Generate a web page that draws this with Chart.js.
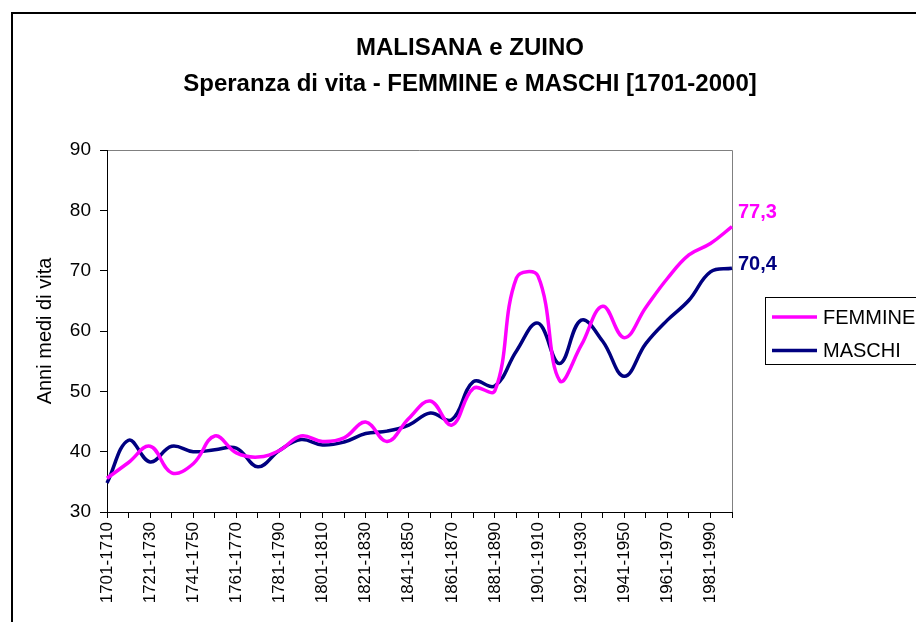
<!DOCTYPE html>
<html>
<head>
<meta charset="utf-8">
<script src="https://cdn.jsdelivr.net/npm/chart.js@4.4.1/dist/chart.umd.min.js"></script>
<style>
  html, body { margin: 0; padding: 0; background: #ffffff; }
  #wrap { width: 916px; height: 622px; position: relative; }
</style>
</head>
<body>
<div id="wrap"><canvas id="c" width="916" height="622"></canvas></div>
<script>
// ---- data ----
const categories = [
  '1701-1710','1711-1720','1721-1730','1731-1740','1741-1750','1751-1760',
  '1761-1770','1771-1780','1781-1790','1791-1800','1801-1810','1811-1820',
  '1821-1830','1831-1840','1841-1850','1851-1860','1861-1870','1871-1880',
  '1881-1890','1891-1900','1901-1910','1911-1920','1921-1930','1931-1940',
  '1941-1950','1951-1960','1961-1970','1971-1980','1981-1990','1991-2000'
];
const femmine = [
  35.6, 38.2, 40.9, 36.5, 38.0, 42.6, 39.8, 39.1, 40.2, 42.6,
  41.7, 42.3, 44.9, 41.7, 45.5, 48.4, 44.4, 50.5, 50.1, 68.8,
  69.1, 51.8, 57.6, 64.1, 58.9, 63.9, 68.7, 72.6, 74.5, 77.3
];
const maschi = [
  34.8, 41.9, 38.3, 40.9, 40.0, 40.3, 40.6, 37.5, 40.2, 42.0,
  41.1, 41.6, 43.0, 43.4, 44.4, 46.4, 45.3, 51.6, 50.9, 56.7,
  61.3, 54.6, 61.8, 58.3, 52.5, 57.9, 61.8, 65.1, 69.8, 70.4
];
const seriesNames = ['FEMMINE', 'MASCHI'];
const endLabels = ['77,3', '70,4'];
const titleLines = ['MALISANA e ZUINO', 'Speranza di vita - FEMMINE e MASCHI [1701-2000]'];
const yTitle = 'Anni medi di vita';

const PINK = '#FF00FF';
const NAVY = '#000080';
const FONT = '"Liberation Sans", Arial, sans-serif';

const decorPlugin = {
  id: 'decor',
  beforeDraw(chart) {
    const ctx = chart.ctx;
    ctx.save();
    ctx.fillStyle = '#ffffff';
    ctx.fillRect(0, 0, chart.width, chart.height);
    // outer chart border (left and top visible)
    ctx.strokeStyle = '#000000';
    ctx.lineWidth = 2;
    ctx.beginPath();
    ctx.moveTo(12, chart.height + 5);
    ctx.lineTo(12, 13);
    ctx.lineTo(chart.width + 5, 13);
    ctx.stroke();
    // plot area top / right border in gray
    const a = chart.chartArea;
    ctx.strokeStyle = '#808080';
    ctx.lineWidth = 1;
    ctx.beginPath();
    ctx.moveTo(a.left, a.top + 0.5);
    ctx.lineTo(a.right + 0.5, a.top + 0.5);
    ctx.lineTo(a.right + 0.5, a.bottom);
    ctx.stroke();
    ctx.restore();
  },
  afterDraw(chart) {
    const ctx = chart.ctx;
    ctx.save();
    // end value labels
    const offsets = [-14, -4];
    chart.data.datasets.forEach((ds, i) => {
      const meta = chart.getDatasetMeta(i);
      const pt = meta.data[meta.data.length - 1];
      ctx.font = 'bold 20px ' + FONT;
      ctx.fillStyle = ds.borderColor;
      ctx.textAlign = 'left';
      ctx.textBaseline = 'middle';
      ctx.fillText(endLabels[i], pt.x + 6, pt.y + offsets[i]);
    });
    // legend box
    const lx = 765, ly = 297.5, lh = 67;
    ctx.strokeStyle = '#000000';
    ctx.lineWidth = 1;
    ctx.strokeRect(lx + 0.5, ly, 200, lh);
    const rows = [317, 350.5];
    chart.data.datasets.forEach((ds, i) => {
      ctx.strokeStyle = ds.borderColor;
      ctx.lineWidth = 3.5;
      ctx.beginPath();
      ctx.moveTo(772, rows[i]);
      ctx.lineTo(817, rows[i]);
      ctx.stroke();
      ctx.fillStyle = '#000000';
      ctx.font = '20px ' + FONT;
      ctx.textAlign = 'left';
      ctx.textBaseline = 'middle';
      ctx.fillText(ds.label, 823, rows[i] + 1);
    });
    ctx.restore();
  }
};

new Chart(document.getElementById('c'), {
  type: 'line',
  data: {
    labels: categories,
    datasets: [
      { label: seriesNames[0], data: femmine, borderColor: PINK, backgroundColor: PINK,
        borderWidth: 3.5, pointRadius: 0, tension: 0.4, fill: false, clip: false },
      { label: seriesNames[1], data: maschi, borderColor: NAVY, backgroundColor: NAVY,
        borderWidth: 3.5, pointRadius: 0, tension: 0.4, fill: false, clip: false }
    ]
  },
  options: {
    responsive: false,
    animation: false,
    devicePixelRatio: 1,
    layout: { padding: { left: 24, right: 0, top: 0, bottom: 0 } },
    plugins: {
      legend: { display: false },
      tooltip: { enabled: false },
      title: {
        display: true,
        text: titleLines,
        color: '#000000',
        font: { family: FONT, size: 24, weight: 'bold', lineHeight: 1.5 },
        padding: { top: 30, bottom: 48 }
      }
    },
    scales: {
      x: {
        type: 'category',
        offset: false,
        border: { display: true, color: '#000000', width: 1 },
        grid: { display: true, drawOnChartArea: false, drawTicks: true, tickLength: 6, color: '#000000' },
        ticks: {
          autoSkip: false, maxRotation: 90, minRotation: 90, padding: 4,
          color: '#000000', font: { family: FONT, size: 17 },
          callback: function (v, i) { return i % 2 === 0 ? categories[i] : ''; }
        },
        afterFit: function (s) { s.height = 110; }
      },
      y: {
        min: 30, max: 90,
        border: { display: true, color: '#000000', width: 1 },
        grid: { display: true, drawOnChartArea: false, drawTicks: true, tickLength: 7, color: '#000000' },
        ticks: { stepSize: 10, padding: 9, color: '#000000', font: { family: FONT, size: 19 } },
        title: { display: true, text: yTitle, color: '#000000',
                 font: { family: FONT, size: 20 }, padding: { top: 9, bottom: 0 } },
        afterFit: function (s) { s.width = 83; }
      },
      y2: {
        position: 'right',
        display: true,
        border: { display: false },
        grid: { display: false },
        ticks: { display: false },
        afterFit: function (s) { s.width = 184; }
      }
    }
  },
  plugins: [decorPlugin]
});
</script>
</body>
</html>
